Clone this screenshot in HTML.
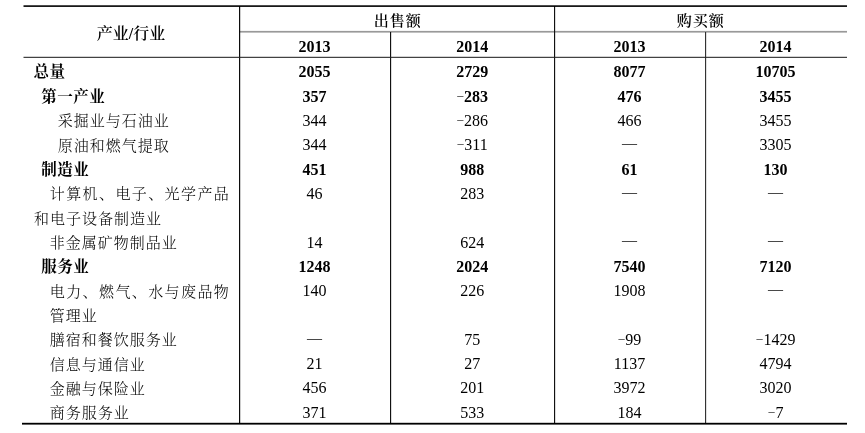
<!DOCTYPE html>
<html lang="zh-CN"><head><meta charset="utf-8"><title>表</title>
<style>
html,body{margin:0;padding:0;background:#fff;}
body{width:865px;height:433px;position:relative;overflow:hidden;color:#000;
 font-family:"Liberation Serif","Noto Serif CJK SC",serif;font-size:16px;}
.t{position:absolute;white-space:nowrap;line-height:20px;height:20px;}
.c{transform:translateX(-50%);}
.b{font-weight:bold;}
.bl{font-weight:700;font-size:15.5px;letter-spacing:.5px;}
.t.j{letter-spacing:1.4px;}
.l{font-weight:300;font-size:15px;letter-spacing:1px;}
.h{font-weight:600;font-size:15px;letter-spacing:1px;}
.h1{font-weight:600;}
.m{font-weight:normal;font-size:13.5px;position:relative;top:-0.6px;color:#222;}
.d{font-size:15px;}
.ln{position:absolute;background:#000;}
</style></head><body>

<svg width="865" height="433" viewBox="0 0 865 433" style="position:absolute;left:0;top:0">
<rect x="239.6" y="30.9" width="607.4" height="1.7" fill="#999"/>
<rect x="239.05" y="6" width="1.15" height="417.5" fill="#000"/>
<rect x="390" y="32" width="1.15" height="391.5" fill="#111"/>
<rect x="554" y="6" width="1.15" height="417.5" fill="#111"/>
<rect x="705" y="32" width="1.15" height="391.5" fill="#333"/>
<rect x="23.5" y="5.3" width="823.5" height="1.6" fill="#000"/>
<rect x="22" y="422.8" width="825" height="1.8" fill="#000"/>
<rect x="23.5" y="56.8" width="823.5" height="1.05" fill="#222"/>
</svg>
<div class="t c h1" style="left:131.1px;top:24px">产业<b>/</b>行业</div>
<div class="t c h" style="left:397.8px;top:11px">出售额</div>
<div class="t c h" style="left:700.8px;top:11px">购买额</div>
<div class="t c b" style="left:314.6px;top:37px">2013</div>
<div class="t c b" style="left:472.2px;top:37px">2014</div>
<div class="t c b" style="left:629.5px;top:37px">2013</div>
<div class="t c b" style="left:775.6px;top:37px">2014</div>
<div class="t bl" style="left:33.6px;top:62px">总量</div>
<div class="t c b" style="left:314.6px;top:62px">2055</div>
<div class="t c b" style="left:472.2px;top:62px">2729</div>
<div class="t c b" style="left:629.5px;top:62px">8077</div>
<div class="t c b" style="left:775.6px;top:62px">10705</div>
<div class="t bl" style="left:41.3px;top:87px">第一产业</div>
<div class="t c b" style="left:314.6px;top:87px">357</div>
<div class="t c b" style="left:472.2px;top:87px"><span class="m">−</span>283</div>
<div class="t c b" style="left:629.5px;top:87px">476</div>
<div class="t c b" style="left:775.6px;top:87px">3455</div>
<div class="t l" style="left:57.7px;top:111px">采掘业与石油业</div>
<div class="t c" style="left:314.6px;top:111px">344</div>
<div class="t c" style="left:472.2px;top:111px"><span class="m">−</span>286</div>
<div class="t c" style="left:629.5px;top:111px">466</div>
<div class="t c" style="left:775.6px;top:111px">3455</div>
<div class="t l" style="left:57.7px;top:136px">原油和燃气提取</div>
<div class="t c" style="left:314.6px;top:135px">344</div>
<div class="t c" style="left:472.2px;top:135px"><span class="m">−</span>311</div>
<div class="t c d" style="left:629.5px;top:133px">—</div>
<div class="t c" style="left:775.6px;top:135px">3305</div>
<div class="t bl" style="left:41.3px;top:160px">制造业</div>
<div class="t c b" style="left:314.6px;top:160px">451</div>
<div class="t c b" style="left:472.2px;top:160px">988</div>
<div class="t c b" style="left:629.5px;top:160px">61</div>
<div class="t c b" style="left:775.6px;top:160px">130</div>
<div class="t l j" style="left:49.8px;top:184px">计算机、电子、光学产品</div>
<div class="t c" style="left:314.6px;top:184px">46</div>
<div class="t c" style="left:472.2px;top:184px">283</div>
<div class="t c d" style="left:629.5px;top:182px">—</div>
<div class="t c d" style="left:775.6px;top:182px">—</div>
<div class="t l" style="left:34px;top:209px">和电子设备制造业</div>
<div class="t l" style="left:49.8px;top:233px">非金属矿物制品业</div>
<div class="t c" style="left:314.6px;top:233px">14</div>
<div class="t c" style="left:472.2px;top:233px">624</div>
<div class="t c d" style="left:629.5px;top:230px">—</div>
<div class="t c d" style="left:775.6px;top:230px">—</div>
<div class="t bl" style="left:41.3px;top:257px">服务业</div>
<div class="t c b" style="left:314.6px;top:257px">1248</div>
<div class="t c b" style="left:472.2px;top:257px">2024</div>
<div class="t c b" style="left:629.5px;top:257px">7540</div>
<div class="t c b" style="left:775.6px;top:257px">7120</div>
<div class="t l j" style="left:49.8px;top:282px">电力、燃气、水与废品物</div>
<div class="t c" style="left:314.6px;top:281px">140</div>
<div class="t c" style="left:472.2px;top:281px">226</div>
<div class="t c" style="left:629.5px;top:281px">1908</div>
<div class="t c d" style="left:775.6px;top:279px">—</div>
<div class="t l" style="left:49.8px;top:306px">管理业</div>
<div class="t l" style="left:49.8px;top:330px">膳宿和餐饮服务业</div>
<div class="t c d" style="left:314.6px;top:328px">—</div>
<div class="t c" style="left:472.2px;top:330px">75</div>
<div class="t c" style="left:629.5px;top:330px"><span class="m">−</span>99</div>
<div class="t c" style="left:775.6px;top:330px"><span class="m">−</span>1429</div>
<div class="t l" style="left:49.8px;top:355px">信息与通信业</div>
<div class="t c" style="left:314.6px;top:354px">21</div>
<div class="t c" style="left:472.2px;top:354px">27</div>
<div class="t c" style="left:629.5px;top:354px">1137</div>
<div class="t c" style="left:775.6px;top:354px">4794</div>
<div class="t l" style="left:49.8px;top:379px">金融与保险业</div>
<div class="t c" style="left:314.6px;top:378px">456</div>
<div class="t c" style="left:472.2px;top:378px">201</div>
<div class="t c" style="left:629.5px;top:378px">3972</div>
<div class="t c" style="left:775.6px;top:378px">3020</div>
<div class="t l" style="left:49.8px;top:403px">商务服务业</div>
<div class="t c" style="left:314.6px;top:403px">371</div>
<div class="t c" style="left:472.2px;top:403px">533</div>
<div class="t c" style="left:629.5px;top:403px">184</div>
<div class="t c" style="left:775.6px;top:403px"><span class="m">−</span>7</div>
</body></html>
